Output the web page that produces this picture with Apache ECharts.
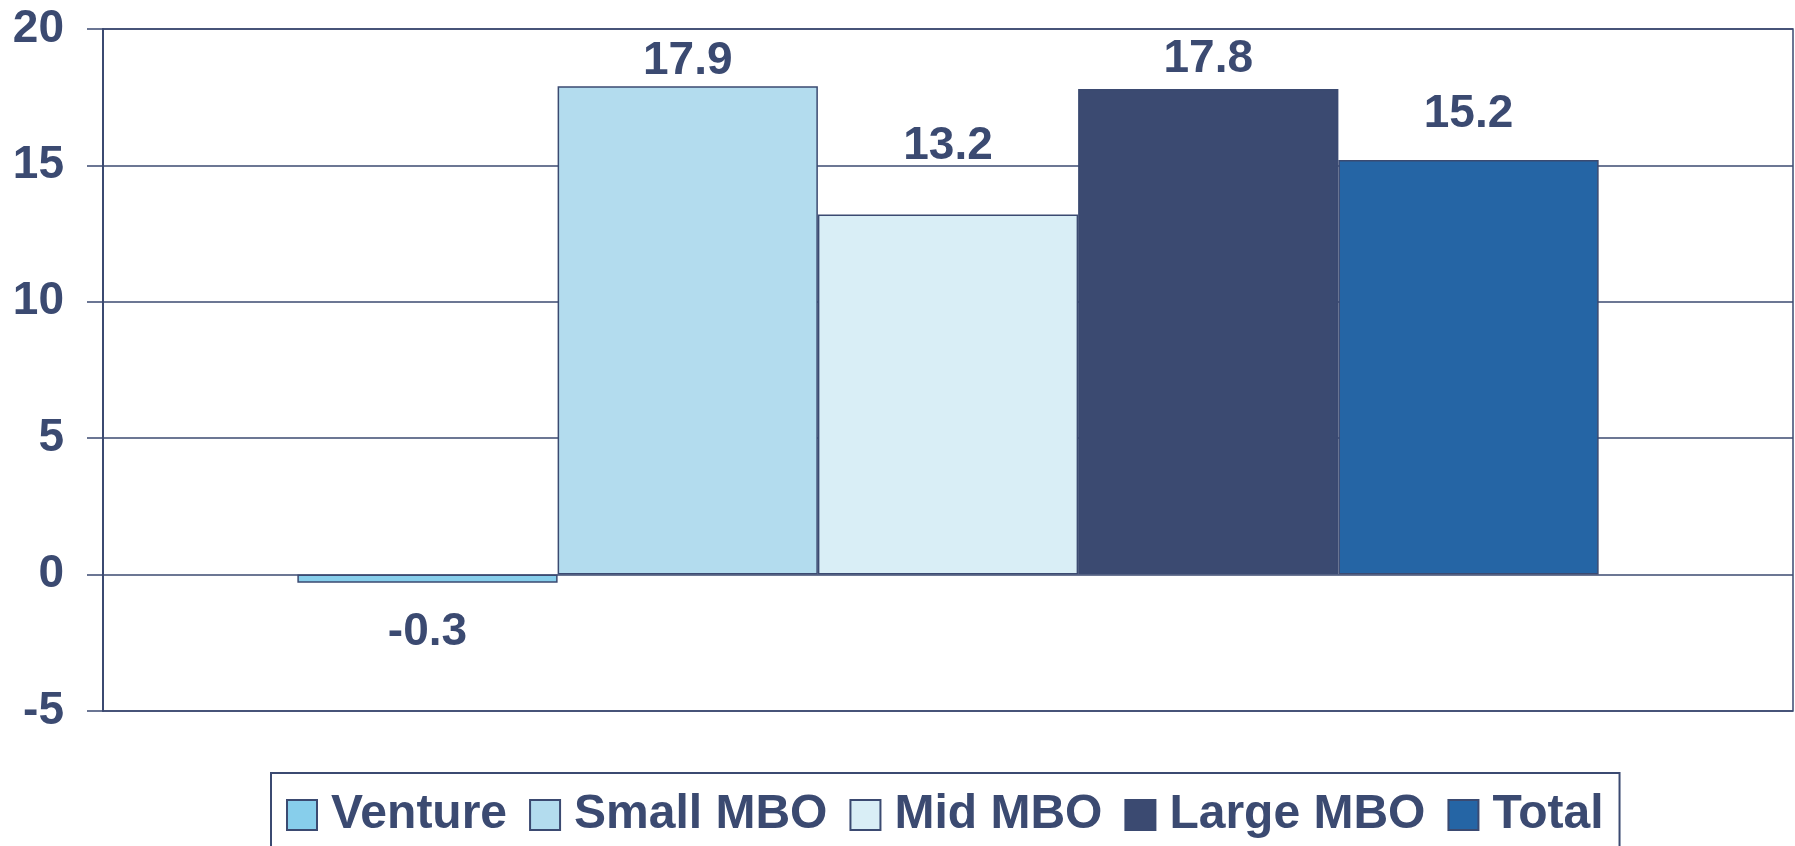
<!DOCTYPE html>
<html>
<head>
<meta charset="utf-8">
<script src="https://cdn.jsdelivr.net/npm/echarts@6/dist/echarts.min.js"></script>
<style>
html,body{margin:0;padding:0;background:#fff;}
#chart{width:1795px;height:846px;}
</style>
</head>
<body>
<div id="chart"></div>
<script>
const seriesNames = ['Venture', 'Small MBO', 'Mid MBO', 'Large MBO', 'Total'];
const seriesValues = [-0.3, 17.9, 13.2, 17.8, 15.2];
const categories = [''];
const yMin = -5;
const yMax = 20;
const yInterval = 5;

const colors = ['#87CEEB', '#B3DCEE', '#D9EEF6', '#3B4A71', '#2565A5'];
const labelPos = ['bottom', 'top', 'top', 'top', 'top'];
const labelDist = [27, 2, 45, 7, 23];
const dark = '#3B4A71';
const font = '"Liberation Sans", Arial, Helvetica, sans-serif';

const chart = echarts.init(document.getElementById('chart'), null, {renderer: 'canvas'});

const series = seriesNames.map((name, i) => ({
  name: name,
  type: 'bar',
  data: [seriesValues[i]],
  barGap: '0%',
  barCategoryGap: '23%',
  itemStyle: {color: colors[i], borderColor: dark, borderWidth: 1.5},
  label: {
    show: true,
    position: labelPos[i],
    distance: labelDist[i],
    color: dark,
    fontSize: 46,
    fontWeight: 'bold',
    fontFamily: font,
    formatter: p => p.value.toFixed(1)
  },
  emphasis: {disabled: true}
}));

chart.setOption({
  animation: false,
  backgroundColor: '#fff',
  grid: {
    left: 103, right: 2, top: 29, bottom: 135,
    show: true, borderColor: dark, borderWidth: 1.5, backgroundColor: 'transparent'
  },
  legend: {
    data: seriesNames,
    left: 271,
    top: 773,
    padding: [18, 16, 40, 15],
    itemWidth: 30,
    itemHeight: 30,
    itemGap: 22,
    borderColor: dark,
    borderWidth: 2,
    icon: 'rect',
    textStyle: {
      color: dark, fontSize: 48, fontWeight: 'bold', fontFamily: font,
      padding: [0, 0, 0, 9]
    }
  },
  xAxis: {
    type: 'category',
    data: categories,
    axisLine: {show: false},
    axisTick: {show: false},
    axisLabel: {show: false},
    splitLine: {show: false}
  },
  yAxis: {
    type: 'value',
    min: yMin,
    max: yMax,
    interval: yInterval,
    axisLine: {show: true, onZero: false, lineStyle: {color: dark, width: 2}},
    axisTick: {show: true, inside: false, length: 16, lineStyle: {color: dark, width: 1.5}},
    axisLabel: {
      color: dark, fontSize: 46, fontWeight: 'bold', fontFamily: font, margin: 39
    },
    splitLine: {show: true, lineStyle: {color: dark, width: 1.5}}
  },
  series: series
});
</script>
</body>
</html>
